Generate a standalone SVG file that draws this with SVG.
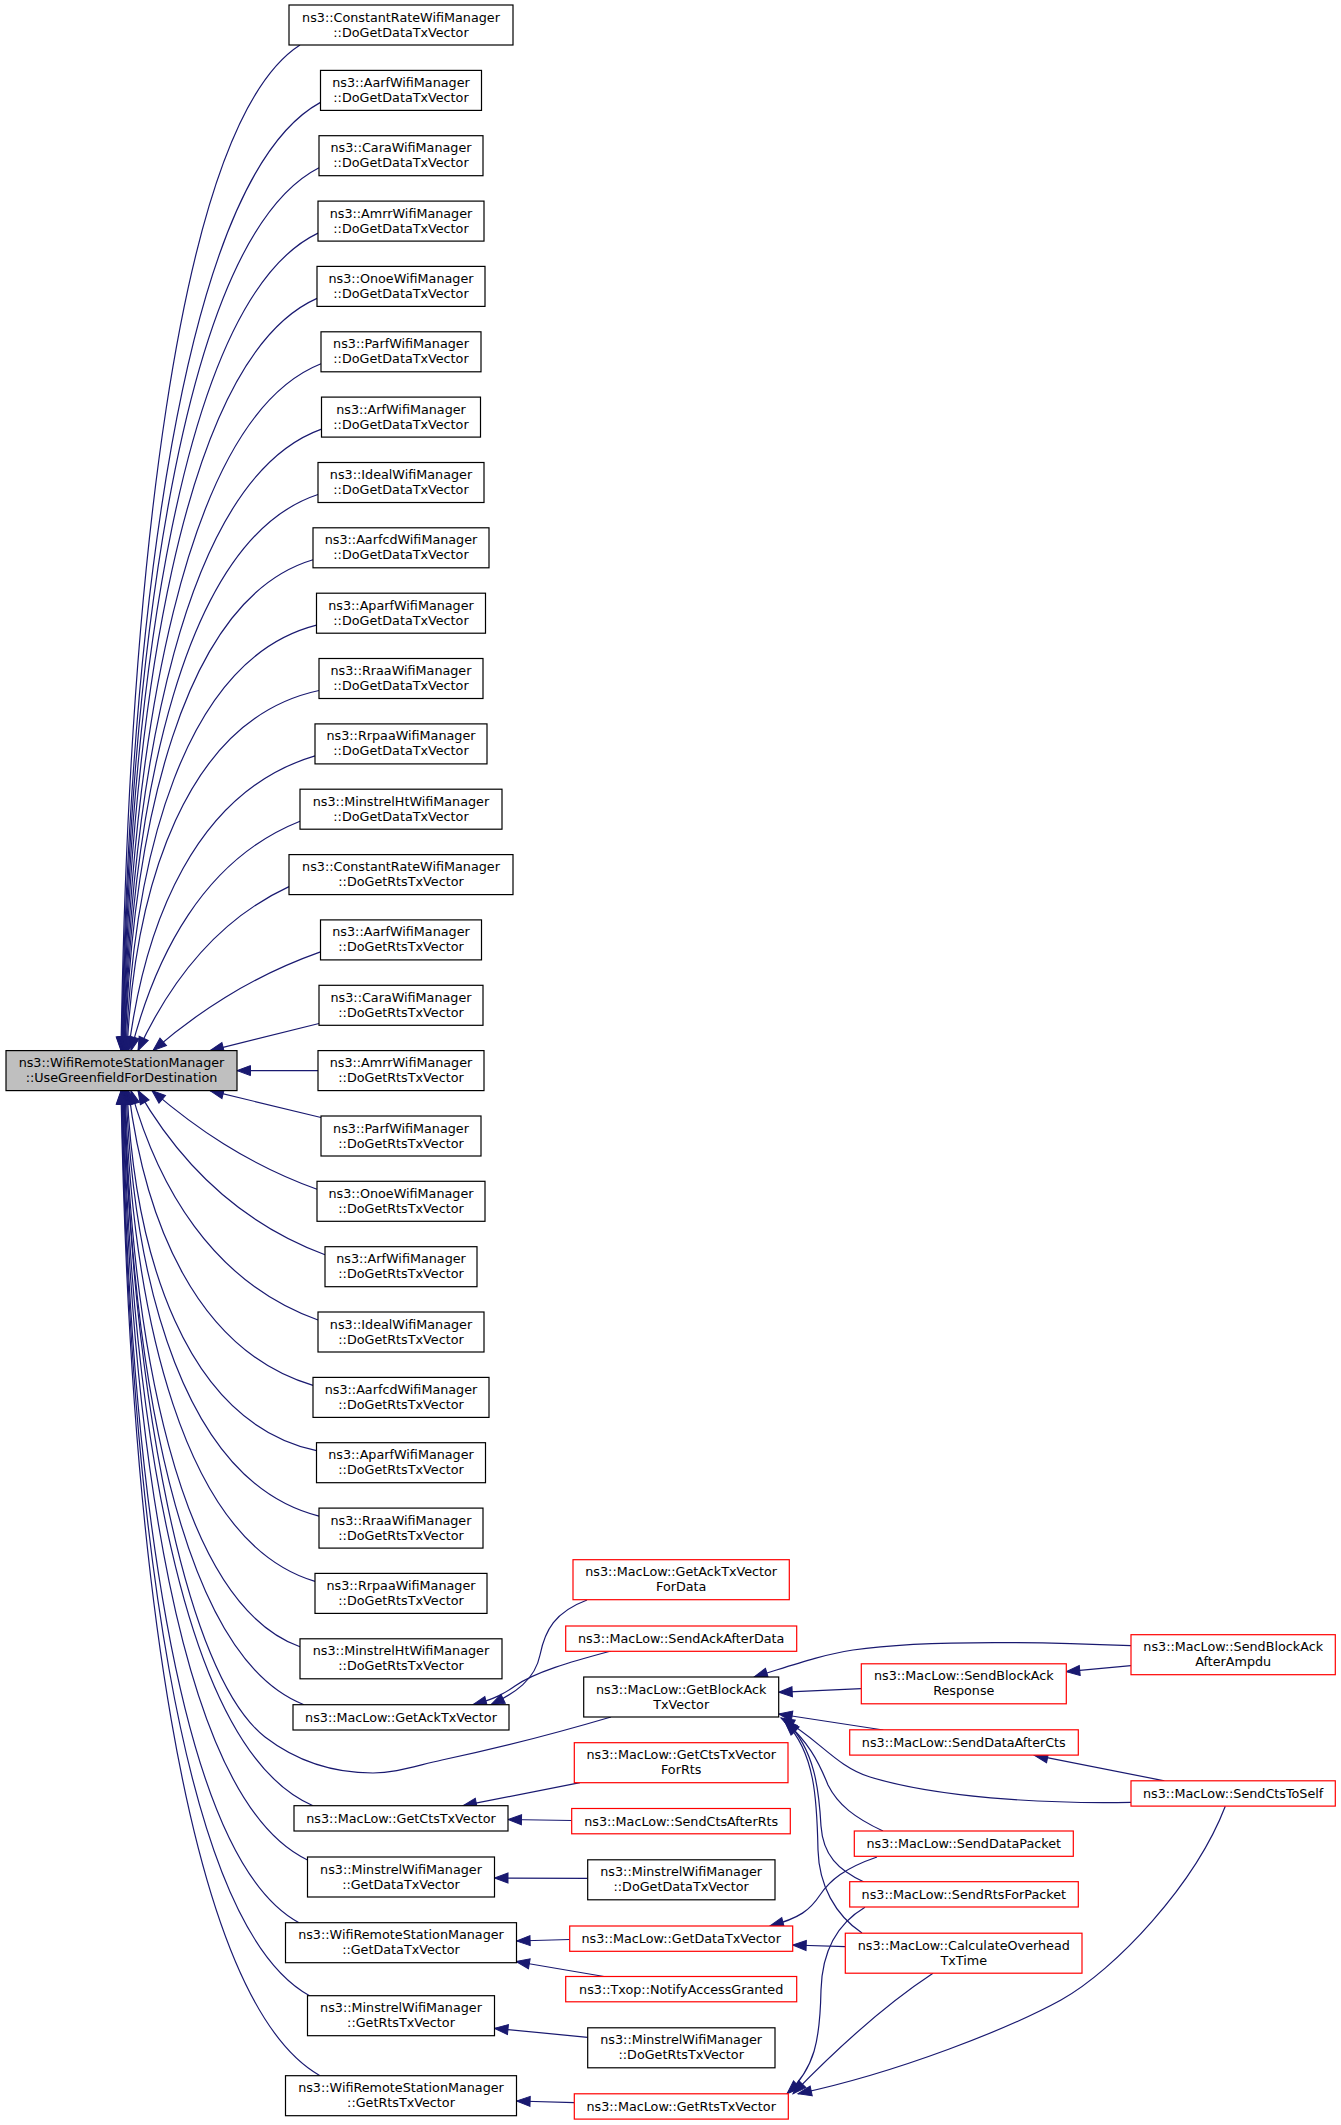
<svg xmlns="http://www.w3.org/2000/svg" width="1341" height="2125" viewBox="0 0 1341 2125">
<style>
rect{stroke-width:1.2}
.b rect{fill:#fff;stroke:#000}
.r rect{fill:#fff;stroke:#f00}
.m rect{fill:#bfbfbf;stroke:#000}
text{font-family:"DejaVu Sans","Liberation Sans",sans-serif;font-size:12.75px;text-anchor:middle;fill:#000}
#edges path{fill:none;stroke:#191970;stroke-width:1.2;marker-end:url(#ah)}
</style>
<defs>
<marker id="ah" markerUnits="userSpaceOnUse" markerWidth="14" markerHeight="10" viewBox="0 0 14 10" refX="13.5" refY="5" orient="auto" overflow="visible">
<path d="M0,0 L13.5,5 L0,10 z" fill="#191970" stroke="#191970" stroke-width="1"/>
</marker>
</defs>
<rect width="1341" height="2125" fill="#fff" stroke="none"/>
<g id="edges">
<path d="M300,45 C174.7,125.4 128.2,598.1 121,1050.6"/>
<path d="M320.5,102.4 C181.2,178.3 129.5,623.9 121.5,1050.6"/>
<path d="M319,167.7 C181.1,238.3 129.9,653.3 122,1050.6"/>
<path d="M318,233.1 C181.1,298.5 130.3,682.7 122.5,1050.6"/>
<path d="M317,298.4 C181.2,358.6 130.8,712.1 123,1050.6"/>
<path d="M321,363.8 C182.7,418.7 131.4,741.5 123.5,1050.6"/>
<path d="M321.5,429.1 C183.2,478.8 131.9,770.9 124,1050.6"/>
<path d="M318,494.5 C182.5,539 132.2,800.4 124.5,1050.6"/>
<path d="M313,559.8 C181.4,599.1 132.5,829.7 125,1050.6"/>
<path d="M316.5,625.2 C183.1,659.2 133.6,859.2 126,1050.6"/>
<path d="M319,690.5 C184.6,719.3 134.7,888.6 127,1050.6"/>
<path d="M315,755.9 C195.2,791.3 144.6,923.4 128.5,1050.6"/>
<path d="M300,821.2 C203.1,859.6 154.9,956.6 131,1050.6"/>
<path d="M289,886.6 C212.7,921.8 167.5,986.9 138,1050.6"/>
<path d="M320.5,951.9 C247.5,977.8 195,1014.5 153,1050.6"/>
<path d="M319,1023.5 L210,1050.6"/>
<path d="M318,1070.6 L237,1070.6"/>
<path d="M321,1117.5 L210,1090.6"/>
<path d="M317,1189.3 C245.5,1163.4 194.2,1126.7 152,1090.6"/>
<path d="M325,1254.7 C230.5,1219.5 174.6,1154.3 138,1090.6"/>
<path d="M318,1320 C210.8,1281.6 157.4,1184.6 131,1090.6"/>
<path d="M313,1385.4 C194.5,1350 144.4,1217.9 128.5,1090.6"/>
<path d="M316.5,1450.7 C183.8,1421.9 134.6,1252.6 127,1090.6"/>
<path d="M319,1516.1 C183.9,1482.1 133.7,1282.1 126,1090.6"/>
<path d="M315,1581.4 C182,1542.1 132.6,1311.5 125,1090.6"/>
<path d="M300,1646.8 C177.1,1602.3 131.5,1340.9 124.5,1090.6"/>
<path d="M304,1704.7 C178,1655.6 131.2,1366.9 124,1090.6"/>
<path d="M611,1717 C550,1735 480,1752 442,1760 C415,1766 395,1773 373,1773 C330,1773 295,1760 265,1737 C185,1675 133,1400 123.5,1090.6"/>
<path d="M313,1805.7 C180,1748.5 130.6,1412.4 123,1090.6"/>
<path d="M307.5,1860 C178,1798.4 129.9,1436.8 122.5,1090.6"/>
<path d="M299,1922.7 C175.1,1856.1 129.1,1465 122,1090.6"/>
<path d="M309.6,1995.7 C177.9,1923.3 129,1497.9 121.5,1090.6"/>
<path d="M320,2075.7 C180.7,1996.9 129,1533.9 121,1090.6"/>
<path d="M587,1600 C555,1612 545,1630 540,1655 C535,1680 515,1693 491,1704.7"/>
<path d="M611,1651 C570,1662 535,1672 515,1686 C505,1693 495,1699 473,1704.7"/>
<path d="M1131,1645.7 C1040,1642 920,1640 853,1650 C820,1655 790,1666 754,1677"/>
<path d="M1131,1665.7 L1066.3,1671.7"/>
<path d="M861.3,1688.7 L778.7,1692.3"/>
<path d="M883.3,1730 L778.7,1714"/>
<path d="M1164.3,1780.8 L1034.3,1755.2"/>
<path d="M1131,1802.3 C1040,1804 935,1797 870,1777 C835,1766 818,1738 781,1718"/>
<path d="M883,1831 C855,1818 838,1805 828,1785 C818,1760 808,1742 784,1720"/>
<path d="M864,1882 C838,1870 823,1855 821,1826 C819,1790 815,1750 786,1721"/>
<path d="M862,1933 C835,1915 819,1885 818,1850 C817,1800 815,1752 785,1722"/>
<path d="M877,1857 C845,1868 830,1880 820,1895 C810,1910 800,1918 770,1926"/>
<path d="M845.3,1946.7 L792.7,1945"/>
<path d="M865,1907.3 C835,1925 822,1955 821,1990 C820,2040 815,2068 787,2093.8"/>
<path d="M933,1973.3 C900,1995 850,2035 793,2093.8"/>
<path d="M1225.3,1806.3 C1195,1885 1115,1970 1061,2000 C1010,2028 900,2072 798,2093.8"/>
<path d="M580,1782.7 L463,1805.7"/>
<path d="M571.7,1820.5 L508,1819.5"/>
<path d="M587.7,1878.3 L494.5,1878"/>
<path d="M569.7,1939.5 L516.6,1941"/>
<path d="M604,1976.5 L516,1961.5"/>
<path d="M587.7,2037.3 L494.5,2028.3"/>
<path d="M574.3,2102.7 L516.6,2101"/>
</g>
<g id="n_main" class="m"><rect x="6" y="1050.6" width="231" height="40"/><text x="121.5" y="1067.1">ns3::WifiRemoteStationManager</text><text x="121.5" y="1082.1">::UseGreenfieldForDestination</text></g>
<g id="n_d0" class="b"><rect x="289" y="5" width="224" height="40"/><text x="401" y="21.5">ns3::ConstantRateWifiManager</text><text x="401" y="36.5">::DoGetDataTxVector</text></g>
<g id="n_d1" class="b"><rect x="320.5" y="70.4" width="161" height="40"/><text x="401" y="86.9">ns3::AarfWifiManager</text><text x="401" y="101.9">::DoGetDataTxVector</text></g>
<g id="n_d2" class="b"><rect x="319" y="135.7" width="164" height="40"/><text x="401" y="152.2">ns3::CaraWifiManager</text><text x="401" y="167.2">::DoGetDataTxVector</text></g>
<g id="n_d3" class="b"><rect x="318" y="201.1" width="166" height="40"/><text x="401" y="217.6">ns3::AmrrWifiManager</text><text x="401" y="232.6">::DoGetDataTxVector</text></g>
<g id="n_d4" class="b"><rect x="317" y="266.4" width="168" height="40"/><text x="401" y="282.9">ns3::OnoeWifiManager</text><text x="401" y="297.9">::DoGetDataTxVector</text></g>
<g id="n_d5" class="b"><rect x="321" y="331.8" width="160" height="40"/><text x="401" y="348.3">ns3::ParfWifiManager</text><text x="401" y="363.3">::DoGetDataTxVector</text></g>
<g id="n_d6" class="b"><rect x="321.5" y="397.1" width="159" height="40"/><text x="401" y="413.6">ns3::ArfWifiManager</text><text x="401" y="428.6">::DoGetDataTxVector</text></g>
<g id="n_d7" class="b"><rect x="318" y="462.5" width="166" height="40"/><text x="401" y="479">ns3::IdealWifiManager</text><text x="401" y="494">::DoGetDataTxVector</text></g>
<g id="n_d8" class="b"><rect x="313" y="527.8" width="176" height="40"/><text x="401" y="544.3">ns3::AarfcdWifiManager</text><text x="401" y="559.3">::DoGetDataTxVector</text></g>
<g id="n_d9" class="b"><rect x="316.5" y="593.2" width="169" height="40"/><text x="401" y="609.7">ns3::AparfWifiManager</text><text x="401" y="624.7">::DoGetDataTxVector</text></g>
<g id="n_d10" class="b"><rect x="319" y="658.5" width="164" height="40"/><text x="401" y="675">ns3::RraaWifiManager</text><text x="401" y="690">::DoGetDataTxVector</text></g>
<g id="n_d11" class="b"><rect x="315" y="723.9" width="172" height="40"/><text x="401" y="740.4">ns3::RrpaaWifiManager</text><text x="401" y="755.4">::DoGetDataTxVector</text></g>
<g id="n_d12" class="b"><rect x="300" y="789.2" width="202" height="40"/><text x="401" y="805.7">ns3::MinstrelHtWifiManager</text><text x="401" y="820.7">::DoGetDataTxVector</text></g>
<g id="n_r0" class="b"><rect x="289" y="854.6" width="224" height="40"/><text x="401" y="871.1">ns3::ConstantRateWifiManager</text><text x="401" y="886.1">::DoGetRtsTxVector</text></g>
<g id="n_r1" class="b"><rect x="320.5" y="919.9" width="161" height="40"/><text x="401" y="936.4">ns3::AarfWifiManager</text><text x="401" y="951.4">::DoGetRtsTxVector</text></g>
<g id="n_r2" class="b"><rect x="319" y="985.3" width="164" height="40"/><text x="401" y="1001.8">ns3::CaraWifiManager</text><text x="401" y="1016.8">::DoGetRtsTxVector</text></g>
<g id="n_r3" class="b"><rect x="318" y="1050.6" width="166" height="40"/><text x="401" y="1067.1">ns3::AmrrWifiManager</text><text x="401" y="1082.1">::DoGetRtsTxVector</text></g>
<g id="n_r4" class="b"><rect x="321" y="1116" width="160" height="40"/><text x="401" y="1132.5">ns3::ParfWifiManager</text><text x="401" y="1147.5">::DoGetRtsTxVector</text></g>
<g id="n_r5" class="b"><rect x="317" y="1181.3" width="168" height="40"/><text x="401" y="1197.8">ns3::OnoeWifiManager</text><text x="401" y="1212.8">::DoGetRtsTxVector</text></g>
<g id="n_r6" class="b"><rect x="325" y="1246.7" width="152" height="40"/><text x="401" y="1263.2">ns3::ArfWifiManager</text><text x="401" y="1278.2">::DoGetRtsTxVector</text></g>
<g id="n_r7" class="b"><rect x="318" y="1312" width="166" height="40"/><text x="401" y="1328.5">ns3::IdealWifiManager</text><text x="401" y="1343.5">::DoGetRtsTxVector</text></g>
<g id="n_r8" class="b"><rect x="313" y="1377.4" width="176" height="40"/><text x="401" y="1393.9">ns3::AarfcdWifiManager</text><text x="401" y="1408.9">::DoGetRtsTxVector</text></g>
<g id="n_r9" class="b"><rect x="316.5" y="1442.7" width="169" height="40"/><text x="401" y="1459.2">ns3::AparfWifiManager</text><text x="401" y="1474.2">::DoGetRtsTxVector</text></g>
<g id="n_r10" class="b"><rect x="319" y="1508.1" width="164" height="40"/><text x="401" y="1524.6">ns3::RraaWifiManager</text><text x="401" y="1539.6">::DoGetRtsTxVector</text></g>
<g id="n_r11" class="b"><rect x="315" y="1573.4" width="172" height="40"/><text x="401" y="1589.9">ns3::RrpaaWifiManager</text><text x="401" y="1604.9">::DoGetRtsTxVector</text></g>
<g id="n_r12" class="b"><rect x="300" y="1638.8" width="202" height="40"/><text x="401" y="1655.3">ns3::MinstrelHtWifiManager</text><text x="401" y="1670.3">::DoGetRtsTxVector</text></g>
<g id="n_getack" class="b"><rect x="293" y="1704.7" width="216" height="25.3"/><text x="401" y="1721.7">ns3::MacLow::GetAckTxVector</text></g>
<g id="n_getcts" class="b"><rect x="294" y="1805.7" width="214" height="25.3"/><text x="401" y="1822.7">ns3::MacLow::GetCtsTxVector</text></g>
<g id="n_mgetdata" class="b"><rect x="307.5" y="1857" width="187" height="40"/><text x="401" y="1873.5">ns3::MinstrelWifiManager</text><text x="401" y="1888.5">::GetDataTxVector</text></g>
<g id="n_wgetdata" class="b"><rect x="285.5" y="1922.7" width="231" height="40"/><text x="401" y="1939.2">ns3::WifiRemoteStationManager</text><text x="401" y="1954.2">::GetDataTxVector</text></g>
<g id="n_mgetrts" class="b"><rect x="307.5" y="1995.7" width="187" height="40"/><text x="401" y="2012.2">ns3::MinstrelWifiManager</text><text x="401" y="2027.2">::GetRtsTxVector</text></g>
<g id="n_wgetrts" class="b"><rect x="285.5" y="2075.7" width="231" height="40"/><text x="401" y="2092.2">ns3::WifiRemoteStationManager</text><text x="401" y="2107.2">::GetRtsTxVector</text></g>
<g id="n_ackfordata" class="r"><rect x="573" y="1559.7" width="216.3" height="40"/><text x="681.2" y="1576.2">ns3::MacLow::GetAckTxVector</text><text x="681.2" y="1591.2">ForData</text></g>
<g id="n_sendackafterdata" class="r"><rect x="565.7" y="1626" width="231" height="25.3"/><text x="681.2" y="1643">ns3::MacLow::SendAckAfterData</text></g>
<g id="n_getblockack" class="b"><rect x="583.7" y="1677" width="195" height="40"/><text x="681.2" y="1693.5">ns3::MacLow::GetBlockAck</text><text x="681.2" y="1708.5">TxVector</text></g>
<g id="n_ctsforrts" class="r"><rect x="574.3" y="1742.7" width="213.7" height="40"/><text x="681.2" y="1759.2">ns3::MacLow::GetCtsTxVector</text><text x="681.2" y="1774.2">ForRts</text></g>
<g id="n_sendctsafterrts" class="r"><rect x="571.7" y="1808.5" width="218.6" height="25.3"/><text x="681.2" y="1825.5">ns3::MacLow::SendCtsAfterRts</text></g>
<g id="n_mdogetdata" class="b"><rect x="587.7" y="1859.8" width="187.3" height="40"/><text x="681.2" y="1876.3">ns3::MinstrelWifiManager</text><text x="681.2" y="1891.3">::DoGetDataTxVector</text></g>
<g id="n_macgetdata" class="r"><rect x="569.7" y="1926" width="223" height="25.3"/><text x="681.2" y="1943">ns3::MacLow::GetDataTxVector</text></g>
<g id="n_txop" class="r"><rect x="565.7" y="1976.5" width="231" height="25.3"/><text x="681.2" y="1993.5">ns3::Txop::NotifyAccessGranted</text></g>
<g id="n_mdogetrts" class="b"><rect x="587.7" y="2027.8" width="187.3" height="40"/><text x="681.2" y="2044.3">ns3::MinstrelWifiManager</text><text x="681.2" y="2059.3">::DoGetRtsTxVector</text></g>
<g id="n_macgetrts" class="r"><rect x="574.3" y="2093.8" width="214" height="25.3"/><text x="681.2" y="2110.8">ns3::MacLow::GetRtsTxVector</text></g>
<g id="n_sbaresponse" class="r"><rect x="861.3" y="1663.8" width="205" height="40"/><text x="963.8" y="1680.3">ns3::MacLow::SendBlockAck</text><text x="963.8" y="1695.3">Response</text></g>
<g id="n_senddataaftercts" class="r"><rect x="849.7" y="1729.8" width="228.6" height="25.3"/><text x="963.8" y="1746.8">ns3::MacLow::SendDataAfterCts</text></g>
<g id="n_senddatapacket" class="r"><rect x="854.3" y="1831" width="219" height="25.3"/><text x="963.8" y="1848">ns3::MacLow::SendDataPacket</text></g>
<g id="n_sendrtsforpacket" class="r"><rect x="849.7" y="1881.7" width="228.6" height="25.3"/><text x="963.8" y="1898.7">ns3::MacLow::SendRtsForPacket</text></g>
<g id="n_calcoverhead" class="r"><rect x="845.3" y="1933.2" width="236.7" height="40"/><text x="963.8" y="1949.7">ns3::MacLow::CalculateOverhead</text><text x="963.8" y="1964.7">TxTime</text></g>
<g id="n_sbaafterampdu" class="r"><rect x="1131" y="1634.7" width="204.3" height="40"/><text x="1233.2" y="1651.2">ns3::MacLow::SendBlockAck</text><text x="1233.2" y="1666.2">AfterAmpdu</text></g>
<g id="n_sendctstoself" class="r"><rect x="1131" y="1780.8" width="204.3" height="25.3"/><text x="1233.2" y="1797.8">ns3::MacLow::SendCtsToSelf</text></g>
</svg>
